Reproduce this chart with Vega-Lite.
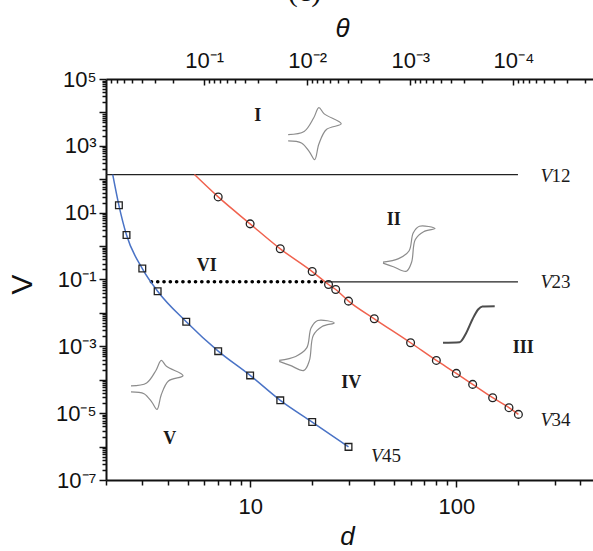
{
  "$schema": "https://vega.github.io/schema/vega-lite/v6.json",
  "width": 487,
  "height": 401,
  "autosize": {"type": "none"},
  "padding": {"left": 106, "top": 79, "right": 0, "bottom": 71},
  "background": "white",
  "title": {"text": "(c)", "font": "Liberation Serif", "fontSize": 30, "fontWeight": "normal", "color": "#111", "offset": 8, "dx": -45, "anchor": "middle", "frame": "group"},
  "config": {
    "view": {"stroke": null},
    "axis": {
      "grid": false,
      "domainColor": "#111",
      "domainWidth": 2,
      "tickColor": "#111",
      "tickWidth": 1.5,
      "labelFont": "Liberation Sans",
      "labelFontSize": 22,
      "labelColor": "#111",
      "labelOverlap": false,
      "labelFlush": false,
      "titleFont": "Liberation Sans",
      "titleColor": "#111",
      "titleFontWeight": "normal"
    }
  },
  "datasets": {
    "bounds": [
      {"line": "V12", "style": "solid", "d": 2, "V": 138},
      {"line": "V12", "style": "solid", "d": 199, "V": 138},
      {"line": "V23", "style": "solid", "d": 23.0, "V": 0.0853},
      {"line": "V23", "style": "solid", "d": 199, "V": 0.0853},
      {"line": "V23d", "style": "dot", "d": 3.32, "V": 0.0853},
      {"line": "V23d", "style": "dot", "d": 23.0, "V": 0.0853}
    ],
    "curves": [
      {"series": "V34", "m": false, "d": 5.37, "V": 138},
      {"series": "V34", "m": true, "d": 7, "V": 29.6},
      {"series": "V34", "m": true, "d": 10, "V": 4.62},
      {"series": "V34", "m": true, "d": 14, "V": 0.828},
      {"series": "V34", "m": true, "d": 20, "V": 0.173},
      {"series": "V34", "m": true, "d": 24, "V": 0.0708},
      {"series": "V34", "m": true, "d": 26, "V": 0.0502},
      {"series": "V34", "m": true, "d": 30, "V": 0.0225},
      {"series": "V34", "m": true, "d": 40, "V": 0.00668},
      {"series": "V34", "m": true, "d": 60, "V": 0.00128},
      {"series": "V34", "m": true, "d": 80, "V": 0.000379},
      {"series": "V34", "m": true, "d": 100, "V": 0.000155},
      {"series": "V34", "m": true, "d": 120, "V": 0.0000726},
      {"series": "V34", "m": true, "d": 150, "V": 0.000029},
      {"series": "V34", "m": true, "d": 180, "V": 0.0000146},
      {"series": "V34", "m": true, "d": 200, "V": 0.0000092},
      {"series": "V45", "m": false, "d": 2.156, "V": 138},
      {"series": "V45", "m": true, "d": 2.31, "V": 16.6},
      {"series": "V45", "m": true, "d": 2.515, "V": 2.14},
      {"series": "V45", "m": true, "d": 3.0, "V": 0.213},
      {"series": "V45", "m": true, "d": 3.56, "V": 0.0447},
      {"series": "V45", "m": true, "d": 4.9, "V": 0.00543},
      {"series": "V45", "m": true, "d": 7, "V": 0.000718},
      {"series": "V45", "m": true, "d": 10, "V": 0.000135},
      {"series": "V45", "m": true, "d": 14, "V": 0.0000242},
      {"series": "V45", "m": true, "d": 20, "V": 0.00000542},
      {"series": "V45", "m": true, "d": 30, "V": 0.00000098}
    ],
    "icons": [
      {"icon": "I", "kind": "cv", "o": 1, "d": 15.29, "V": 2163},
      {"icon": "I", "kind": "cv", "o": 2, "d": 18.27, "V": 2676},
      {"icon": "I", "kind": "cv", "o": 3, "d": 20.32, "V": 6776},
      {"icon": "I", "kind": "cv", "o": 4, "d": 21.55, "V": 13870},
      {"icon": "I", "kind": "cv", "o": 5, "d": 22.87, "V": 9050},
      {"icon": "I", "kind": "cv", "o": 6, "d": 27.65, "V": 4580},
      {"icon": "I", "kind": "cv", "o": 7, "d": 23.44, "V": 3090},
      {"icon": "I", "kind": "cv", "o": 8, "d": 21.55, "V": 1132},
      {"icon": "I", "kind": "cv", "o": 9, "d": 20.56, "V": 387},
      {"icon": "I", "kind": "cv", "o": 10, "d": 19.39, "V": 662},
      {"icon": "I", "kind": "cv", "o": 11, "d": 17.74, "V": 1213},
      {"icon": "I", "kind": "cv", "o": 12, "d": 15.29, "V": 1401},
      {"icon": "V", "kind": "cv", "o": 1, "d": 2.644, "V": 0.0000655},
      {"icon": "V", "kind": "cv", "o": 2, "d": 3.148, "V": 0.0000805},
      {"icon": "V", "kind": "cv", "o": 3, "d": 3.498, "V": 0.000193},
      {"icon": "V", "kind": "cv", "o": 4, "d": 3.707, "V": 0.000379},
      {"icon": "V", "kind": "cv", "o": 5, "d": 3.928, "V": 0.000252},
      {"icon": "V", "kind": "cv", "o": 6, "d": 4.729, "V": 0.000133},
      {"icon": "V", "kind": "cv", "o": 7, "d": 4.017, "V": 0.0000918},
      {"icon": "V", "kind": "cv", "o": 8, "d": 3.707, "V": 0.0000357},
      {"icon": "V", "kind": "cv", "o": 9, "d": 3.536, "V": 0.000013},
      {"icon": "V", "kind": "cv", "o": 10, "d": 3.337, "V": 0.0000215},
      {"icon": "V", "kind": "cv", "o": 11, "d": 3.058, "V": 0.0000383},
      {"icon": "V", "kind": "cv", "o": 12, "d": 2.644, "V": 0.0000436},
      {"icon": "IV", "kind": "cv", "o": 1, "d": 13.83, "V": 0.000379},
      {"icon": "IV", "kind": "cv", "o": 2, "d": 16.63, "V": 0.000499},
      {"icon": "IV", "kind": "cv", "o": 3, "d": 18.81, "V": 0.000895},
      {"icon": "IV", "kind": "cv", "o": 4, "d": 19.75, "V": 0.00355},
      {"icon": "IV", "kind": "cv", "o": 5, "d": 21.27, "V": 0.00594},
      {"icon": "IV", "kind": "cv", "o": 6, "d": 25.57, "V": 0.00501},
      {"icon": "IV", "kind": "cv", "o": 7, "d": 22.34, "V": 0.00394},
      {"icon": "IV", "kind": "cv", "o": 8, "d": 20.24, "V": 0.00212},
      {"icon": "IV", "kind": "cv", "o": 9, "d": 19.39, "V": 0.000379},
      {"icon": "IV", "kind": "cv", "o": 10, "d": 18.24, "V": 0.0001905},
      {"icon": "IV", "kind": "cv", "o": 11, "d": 15.64, "V": 0.000269},
      {"icon": "IV", "kind": "cv", "o": 12, "d": 13.83, "V": 0.000354},
      {"icon": "II", "kind": "cv", "o": 1, "d": 44.09, "V": 0.329},
      {"icon": "II", "kind": "cv", "o": 2, "d": 52.48, "V": 0.4217},
      {"icon": "II", "kind": "cv", "o": 3, "d": 58.94, "V": 0.7137},
      {"icon": "II", "kind": "cv", "o": 4, "d": 61.78, "V": 2.465},
      {"icon": "II", "kind": "cv", "o": 5, "d": 66.22, "V": 3.921},
      {"icon": "II", "kind": "cv", "o": 6, "d": 78.8, "V": 3.357},
      {"icon": "II", "kind": "cv", "o": 7, "d": 69.4, "V": 2.704},
      {"icon": "II", "kind": "cv", "o": 8, "d": 63.17, "V": 1.549},
      {"icon": "II", "kind": "cv", "o": 9, "d": 60.67, "V": 0.329},
      {"icon": "II", "kind": "cv", "o": 10, "d": 57.26, "V": 0.177},
      {"icon": "II", "kind": "cv", "o": 11, "d": 49.51, "V": 0.2415},
      {"icon": "II", "kind": "cv", "o": 12, "d": 44.09, "V": 0.309},
      {"icon": "III", "kind": "sig", "o": 1, "d": 86.18, "V": 0.001282},
      {"icon": "III", "kind": "sig", "o": 2, "d": 103.75, "V": 0.001336},
      {"icon": "III", "kind": "sig", "o": 3, "d": 111.8, "V": 0.002553},
      {"icon": "III", "kind": "sig", "o": 4, "d": 119.6, "V": 0.00637},
      {"icon": "III", "kind": "sig", "o": 5, "d": 127.5, "V": 0.01268},
      {"icon": "III", "kind": "sig", "o": 6, "d": 133.7, "V": 0.0156},
      {"icon": "III", "kind": "sig", "o": 7, "d": 153.5, "V": 0.0159}
    ],
    "regions": [
      {"label": "I", "d": 10.9, "V": 8000},
      {"label": "II", "d": 49.7, "V": 5.93},
      {"label": "III", "d": 211, "V": 0.000908},
      {"label": "IV", "d": 30.9, "V": 0.0000778},
      {"label": "V", "d": 4.07, "V": 0.00000171},
      {"label": "VI", "d": 6.16, "V": 0.262}
    ],
    "blabels": [
      {"num": "12", "d": 255.7, "V": 122},
      {"num": "23", "d": 255.7, "V": 0.0853},
      {"num": "34", "d": 255.7, "V": 0.0000062},
      {"num": "45", "d": 38.6, "V": 0.00000051}
    ],
    "theta": [
      {"t": 0.894},
      {"t": 0.0000169}
    ]
  },
  "layer": [
    {
      "data": {"name": "bounds"},
      "transform": [{"filter": "datum.style == 'solid'"}],
      "mark": {"type": "line", "color": "#222", "strokeWidth": 1.3},
      "encoding": {
        "x": {
          "field": "d", "type": "quantitative",
          "scale": {"type": "log", "domain": [2, 460], "nice": false},
          "axis": {
            "orient": "bottom",
            "tickCount": 30,
            "title": "d",
            "titleFontStyle": "italic",
            "titleFontSize": 26,
            "titleX": 241,
            "titleY": 56,
            "titleBaseline": "middle",
            "labelPadding": 9,
            "labelExpr": "datum.value == 10 ? '10' : datum.value == 100 ? '100' : ''",
            "tickSize": {"condition": {"test": "abs(log(datum.value)/LN10 - round(log(datum.value)/LN10)) < 0.001", "value": 7}, "value": 5}
          }
        },
        "y": {
          "field": "V", "type": "quantitative",
          "scale": {"type": "log", "domain": [1e-7, 100000], "nice": false},
          "axis": {
            "orient": "left",
            "tickCount": 150,
            "title": "V",
            "titleFontSize": 30,
            "titleX": -84,
            "titleY": 205,
            "titleBaseline": "middle",
            "labelPadding": 3,
            "labelExpr": "abs(log(datum.value)/LN10 - round(log(datum.value)/LN10)) < 0.001 ? ['10⁻⁷','','10⁻⁵','','10⁻³','','10⁻¹','','10¹','','10³','','10⁵'][round(log(datum.value)/LN10)+7] : ''",
            "tickSize": {"condition": {"test": "abs(log(datum.value)/LN10 - round(log(datum.value)/LN10)) < 0.001", "value": 7}, "value": 4}
          }
        },
        "detail": {"field": "line", "type": "nominal"}
      }
    },
    {
      "data": {"name": "bounds"},
      "transform": [{"filter": "datum.style == 'dot'"}],
      "mark": {"type": "line", "color": "#000", "strokeWidth": 3.6, "strokeDash": [0.1, 6.2], "strokeCap": "round"},
      "encoding": {
        "x": {"field": "d", "type": "quantitative", "scale": {"type": "log", "domain": [2, 460], "nice": false}, "axis": null},
        "y": {"field": "V", "type": "quantitative"}
      }
    },
    {
      "data": {"name": "icons"},
      "transform": [{"filter": "datum.kind == 'cv'"}],
      "mark": {"type": "line", "color": "#8c8c8c", "strokeWidth": 1.2, "interpolate": "catmull-rom"},
      "encoding": {
        "x": {"field": "d", "type": "quantitative", "scale": {"type": "log", "domain": [2, 460], "nice": false}, "axis": null},
        "y": {"field": "V", "type": "quantitative"},
        "detail": {"field": "icon", "type": "nominal"},
        "order": {"field": "o", "type": "quantitative"}
      }
    },
    {
      "data": {"name": "icons"},
      "transform": [{"filter": "datum.kind == 'sig'"}],
      "mark": {"type": "line", "color": "#4d4d4d", "strokeWidth": 2, "interpolate": "monotone"},
      "encoding": {
        "x": {"field": "d", "type": "quantitative", "scale": {"type": "log", "domain": [2, 460], "nice": false}, "axis": null},
        "y": {"field": "V", "type": "quantitative"},
        "order": {"field": "o", "type": "quantitative"}
      }
    },
    {
      "data": {"name": "curves"},
      "mark": {"type": "line", "strokeWidth": 1.5, "interpolate": "monotone"},
      "encoding": {
        "x": {"field": "d", "type": "quantitative", "scale": {"type": "log", "domain": [2, 460], "nice": false}, "axis": null},
        "y": {"field": "V", "type": "quantitative"},
        "color": {"field": "series", "type": "nominal", "scale": {"domain": ["V34", "V45"], "range": ["#f0624e", "#4a73c6"]}, "legend": null}
      }
    },
    {
      "data": {"name": "curves"},
      "transform": [{"filter": "datum.m && datum.series == 'V34'"}],
      "mark": {"type": "point", "shape": "circle", "filled": false, "size": 60, "strokeWidth": 1.3, "color": "#222", "opacity": 1},
      "encoding": {
        "x": {"field": "d", "type": "quantitative", "scale": {"type": "log", "domain": [2, 460], "nice": false}, "axis": null},
        "y": {"field": "V", "type": "quantitative"}
      }
    },
    {
      "data": {"name": "curves"},
      "transform": [{"filter": "datum.m && datum.series == 'V45'"}],
      "mark": {"type": "point", "shape": "square", "filled": false, "size": 45, "strokeWidth": 1.3, "color": "#222", "opacity": 1},
      "encoding": {
        "x": {"field": "d", "type": "quantitative", "scale": {"type": "log", "domain": [2, 460], "nice": false}, "axis": null},
        "y": {"field": "V", "type": "quantitative"}
      }
    },
    {
      "data": {"name": "regions"},
      "mark": {"type": "text", "font": "Liberation Serif", "fontWeight": "bold", "fontSize": 18, "color": "#1a1a1a", "align": "center", "baseline": "middle"},
      "encoding": {
        "x": {"field": "d", "type": "quantitative", "scale": {"type": "log", "domain": [2, 460], "nice": false}, "axis": null},
        "y": {"field": "V", "type": "quantitative"},
        "text": {"field": "label"}
      }
    },
    {
      "data": {"name": "blabels"},
      "mark": {"type": "text", "font": "Liberation Serif", "fontStyle": "italic", "fontSize": 19, "color": "#1a1a1a", "align": "left", "baseline": "middle", "text": "V"},
      "encoding": {
        "x": {"field": "d", "type": "quantitative", "scale": {"type": "log", "domain": [2, 460], "nice": false}, "axis": null},
        "y": {"field": "V", "type": "quantitative"}
      }
    },
    {
      "data": {"name": "blabels"},
      "mark": {"type": "text", "font": "Liberation Serif", "fontSize": 19, "color": "#1a1a1a", "align": "left", "baseline": "middle", "dx": 11},
      "encoding": {
        "x": {"field": "d", "type": "quantitative", "scale": {"type": "log", "domain": [2, 460], "nice": false}, "axis": null},
        "y": {"field": "V", "type": "quantitative"},
        "text": {"field": "num"}
      }
    },
    {
      "data": {"name": "theta"},
      "mark": {"type": "point", "opacity": 0},
      "encoding": {
        "x": {
          "field": "t", "type": "quantitative",
          "scale": {"type": "log", "domain": [0.0000169, 0.894], "reverse": true, "nice": false},
          "axis": {
            "orient": "top",
            "tickCount": 60,
            "title": "θ",
            "titleFontStyle": "italic",
            "titleFontSize": 26,
            "titleX": 236,
            "titleY": -51,
            "titleBaseline": "middle",
            "labelPadding": 13,
            "labelExpr": "abs(log(datum.value)/LN10 - round(log(datum.value)/LN10)) < 0.001 ? ['','10⁻¹','10⁻²','10⁻³','10⁻⁴','10⁻⁵'][round(-log(datum.value)/LN10)] : ''",
            "tickSize": {"condition": {"test": "abs(log(datum.value)/LN10 - round(log(datum.value)/LN10)) < 0.001", "value": -6}, "value": -4}
          }
        }
      }
    }
  ],
  "resolve": {"scale": {"x": "independent"}}
}
